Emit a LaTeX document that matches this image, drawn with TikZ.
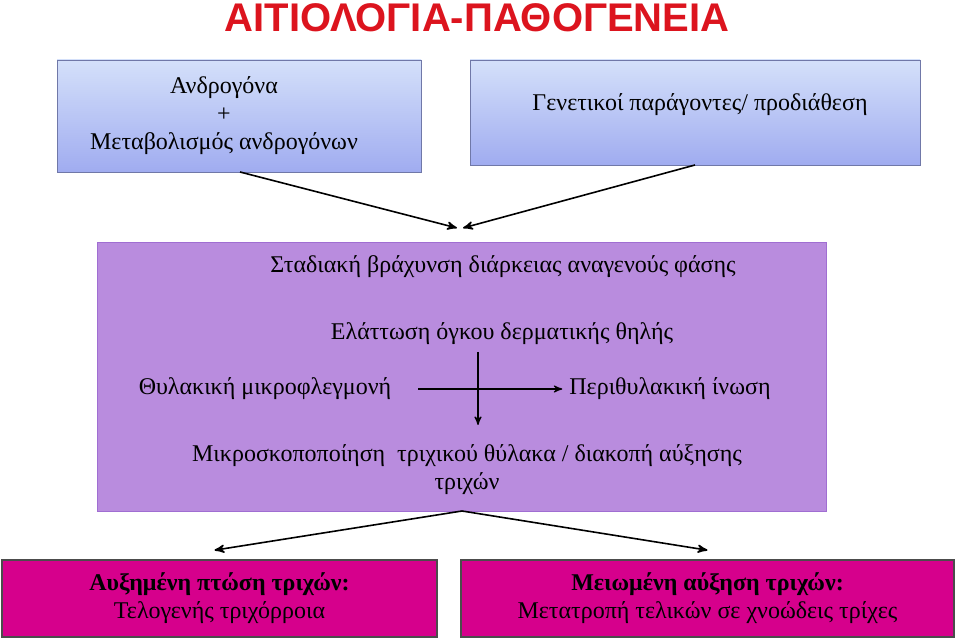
\documentclass[tikz,border=0pt]{standalone}
\usepackage{fontspec}
\setmainfont{Liberation Serif}
\newfontfamily\titlefont{Liberation Sans}
\usetikzlibrary{arrows,positioning,calc}
\definecolor{boxblue}{RGB}{160,172,240}
\definecolor{lightblue}{RGB}{212,224,250}
\definecolor{mauve}{RGB}{185,140,222}
\definecolor{mauveline}{RGB}{160,110,210}
\definecolor{hotpink}{RGB}{214,0,140}
\definecolor{titlered}{RGB}{220,20,30}
\begin{document}
\begin{tikzpicture}[
        x=0.5pt, y=-0.5pt,
        every node/.style={font=\fontsize{12}{14}\selectfont},
        blubox/.style={draw=boxblue!70!black, top color=lightblue, bottom color=boxblue, minimum height=0pt},
        pinkbox/.style={rectangle, draw=black!70, thick, fill=hotpink},
        arr/.style={->, >=stealth', thick}
    ]
        \useasboundingbox (0,0) rectangle (959,640);
        \node[font=\titlefont\bfseries\fontsize{20}{24}\selectfont, text=titlered] (title) at (477,18) {ΑΙΤΙΟΛΟΓΙΑ-ΠΑΘΟΓΕΝΕΙΑ};

        % top boxes
        \shade[blubox] (57,60) rectangle (421,172);
        \node[align=center] (andro) at (224,116) {Ανδρογόνα\\+\\Μεταβολισμός ανδρογόνων};
        \shade[blubox] (470,60) rectangle (920,165);
        \node (genet) at (700,105) {Γενετικοί παράγοντες/ προδιάθεση};

        % middle box
        \filldraw[fill=mauve, draw=mauveline] (97,242) rectangle (826,511);
        \coordinate (mtop) at (457,228);
        \coordinate (gl) at (240,172);
        \coordinate (gr) at (695,165);
        \draw[arr] (gl) -- (mtop);
        \draw[arr] (gr) -- ($(mtop)+(6,0)$);
        \node (stad) at (503,267) {Σταδιακή βράχυνση διάρκειας αναγενούς φάσης};
        \node (elat) at (502,334) {Ελάττωση όγκου δερματικής θηλής};
        \node (thyl) at (265,389) {Θυλακική μικροφλεγμονή};
        \node (peri) at (670,389) {Περιθυλακική ίνωση};
        \node[align=center] (mikro) at (467,470) {Μικροσκοποποίηση \ τριχικού θύλακα / διακοπή αύξησης\\τριχών};
        \coordinate (hstart) at (418,389);
        \coordinate (vstart) at (478,352);
        \draw[arr, semithick] (hstart) -- (peri.west);
        \draw[arr, semithick] (vstart) -- (478,425);

        % bottom boxes
        \coordinate (mbot) at (462,511);
        \node[pinkbox, minimum width=435*0.5pt, minimum height=77*0.5pt, align=center] (loss) at (219.5,598.5)
            {\textbf{Αυξημένη πτώση τριχών:}\\Τελογενής τριχόρροια};
        \node[pinkbox, minimum width=493*0.5pt, minimum height=77*0.5pt, align=center] (grow) at (707.5,598.5)
            {\textbf{Μειωμένη αύξηση τριχών:}\\Μετατροπή τελικών σε χνοώδεις τρίχες};
        \draw[arr] (mbot) -- ($(loss.north)+(-5,-9)$);
        \draw[arr] (mbot) -- ($(grow.north)+(0,-9)$);
    \end{tikzpicture}
\end{document}
